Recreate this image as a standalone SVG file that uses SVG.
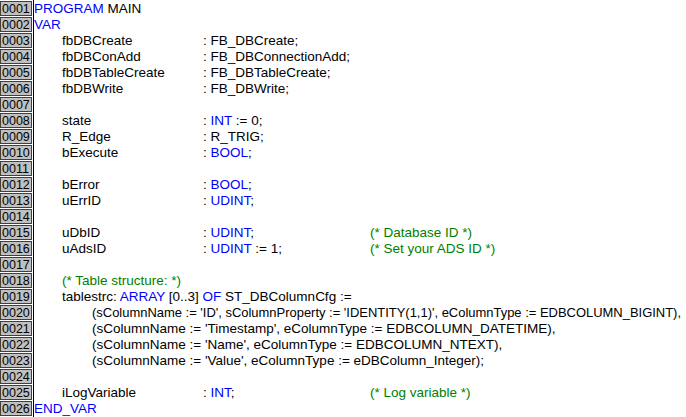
<svg xmlns="http://www.w3.org/2000/svg" width="686" height="417" viewBox="0 0 686 417">
<style>
text{font-family:"Liberation Sans",Arial,sans-serif;font-size:13.5px;fill:#000}
.k{fill:#0000ff}.c{fill:#008000}
.n{font-size:12.5px}
.b{fill:#c0c0c0;stroke:#404040;stroke-width:1}
</style>
<rect width="686" height="417" fill="#fff"/>
<g id="gutter">
<rect x="0" y="0" width="33" height="417" fill="#fff"/>
<line x1="33.5" y1="0" x2="33.5" y2="417" stroke="#000"/>
<g id="nums">
<rect class="b" x="0.5" y="1.5" width="31" height="14"/><text class="n" x="2" y="13">0001</text>
<rect class="b" x="0.5" y="17.5" width="31" height="14"/><text class="n" x="2" y="29">0002</text>
<rect class="b" x="0.5" y="33.5" width="31" height="14"/><text class="n" x="2" y="45">0003</text>
<rect class="b" x="0.5" y="49.5" width="31" height="14"/><text class="n" x="2" y="61">0004</text>
<rect class="b" x="0.5" y="65.5" width="31" height="14"/><text class="n" x="2" y="77">0005</text>
<rect class="b" x="0.5" y="81.5" width="31" height="14"/><text class="n" x="2" y="93">0006</text>
<rect class="b" x="0.5" y="97.5" width="31" height="14"/><text class="n" x="2" y="109">0007</text>
<rect class="b" x="0.5" y="113.5" width="31" height="14"/><text class="n" x="2" y="125">0008</text>
<rect class="b" x="0.5" y="129.5" width="31" height="14"/><text class="n" x="2" y="141">0009</text>
<rect class="b" x="0.5" y="145.5" width="31" height="14"/><text class="n" x="2" y="157">0010</text>
<rect class="b" x="0.5" y="161.5" width="31" height="14"/><text class="n" x="2" y="173">0011</text>
<rect class="b" x="0.5" y="177.5" width="31" height="14"/><text class="n" x="2" y="189">0012</text>
<rect class="b" x="0.5" y="193.5" width="31" height="14"/><text class="n" x="2" y="205">0013</text>
<rect class="b" x="0.5" y="209.5" width="31" height="14"/><text class="n" x="2" y="221">0014</text>
<rect class="b" x="0.5" y="225.5" width="31" height="14"/><text class="n" x="2" y="237">0015</text>
<rect class="b" x="0.5" y="241.5" width="31" height="14"/><text class="n" x="2" y="253">0016</text>
<rect class="b" x="0.5" y="257.5" width="31" height="14"/><text class="n" x="2" y="269">0017</text>
<rect class="b" x="0.5" y="273.5" width="31" height="14"/><text class="n" x="2" y="285">0018</text>
<rect class="b" x="0.5" y="289.5" width="31" height="14"/><text class="n" x="2" y="301">0019</text>
<rect class="b" x="0.5" y="305.5" width="31" height="14"/><text class="n" x="2" y="317">0020</text>
<rect class="b" x="0.5" y="321.5" width="31" height="14"/><text class="n" x="2" y="333">0021</text>
<rect class="b" x="0.5" y="337.5" width="31" height="14"/><text class="n" x="2" y="349">0022</text>
<rect class="b" x="0.5" y="353.5" width="31" height="14"/><text class="n" x="2" y="365">0023</text>
<rect class="b" x="0.5" y="369.5" width="31" height="14"/><text class="n" x="2" y="381">0024</text>
<rect class="b" x="0.5" y="385.5" width="31" height="14"/><text class="n" x="2" y="397">0025</text>
<rect class="b" x="0.5" y="401.5" width="31" height="14"/><text class="n" x="2" y="413">0026</text>
</g>
</g>
<g id="code">
<text x="34" y="13"><tspan class="k">PROGRAM</tspan> MAIN</text>
<text x="34" y="29" class="k">VAR</text>
<text x="62" y="45">fbDBCreate</text><text x="203" y="45">: FB_DBCreate;</text>
<text x="62" y="61">fbDBConAdd</text><text x="203" y="61">: FB_DBConnectionAdd;</text>
<text x="62" y="77">fbDBTableCreate</text><text x="203" y="77">: FB_DBTableCreate;</text>
<text x="62" y="93">fbDBWrite</text><text x="203" y="93">: FB_DBWrite;</text>
<text x="62" y="125">state</text><text x="203" y="125">: <tspan class="k">INT</tspan> := 0;</text>
<text x="62" y="141">R_Edge</text><text x="203" y="141">: R_TRIG;</text>
<text x="62" y="157">bExecute</text><text x="203" y="157">: <tspan class="k">BOOL</tspan>;</text>
<text x="62" y="189">bError</text><text x="203" y="189">: <tspan class="k">BOOL</tspan>;</text>
<text x="62" y="205">uErrID</text><text x="203" y="205">: <tspan class="k">UDINT</tspan>;</text>
<text x="62" y="237">uDbID</text><text x="203" y="237">: <tspan class="k">UDINT</tspan>;</text><text x="370" y="237" class="c">(* Database ID *)</text>
<text x="62" y="253">uAdsID</text><text x="203" y="253">: <tspan class="k">UDINT</tspan> := 1;</text><text x="370" y="253" class="c">(* Set your ADS ID *)</text>
<text x="62" y="285" class="c">(* Table structure: *)</text>
<text x="62" y="301">tablestrc: <tspan class="k">ARRAY</tspan> [0..3] <tspan class="k">OF</tspan> ST_DBColumnCfg :=</text>
<text x="92" y="317" textLength="589" lengthAdjust="spacingAndGlyphs">(sColumnName := 'ID', sColumnProperty := 'IDENTITY(1,1)', eColumnType := EDBCOLUMN_BIGINT),</text>
<text x="92" y="333">(sColumnName := 'Timestamp', eColumnType := EDBCOLUMN_DATETIME),</text>
<text x="92" y="349">(sColumnName := 'Name', eColumnType := EDBCOLUMN_NTEXT),</text>
<text x="92" y="365">(sColumnName := 'Value', eColumnType := eDBColumn_Integer);</text>
<text x="62" y="397">iLogVariable</text><text x="203" y="397">: <tspan class="k">INT</tspan>;</text><text x="370" y="397" class="c">(* Log variable *)</text>
<text x="34" y="413" class="k">END_VAR</text>
</g>
</svg>
